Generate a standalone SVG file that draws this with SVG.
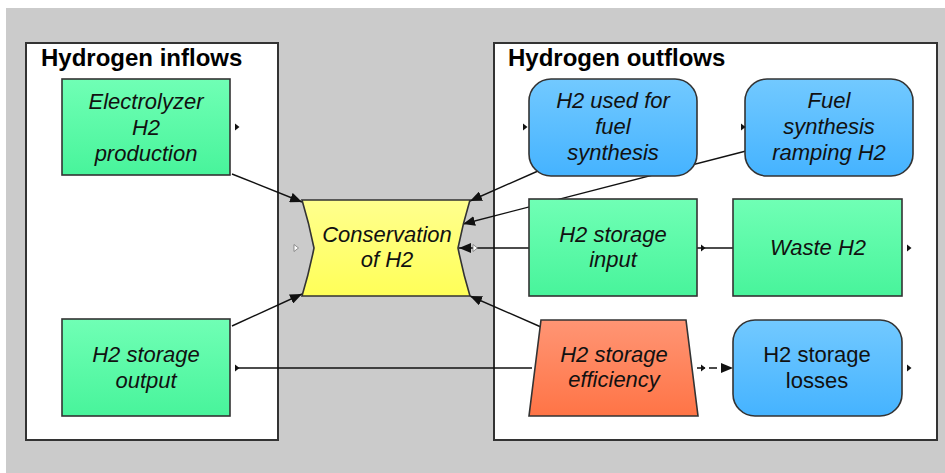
<svg xmlns="http://www.w3.org/2000/svg" width="945" height="473" viewBox="0 0 945 473">
<defs>
<style>
.panel{fill:#fff;stroke:#333;stroke-width:2}
.title{font-family:"Liberation Sans",Arial,sans-serif;font-weight:bold;font-size:24px;fill:#000}
.t{font-family:"Liberation Sans",Arial,sans-serif;font-style:italic;font-size:22px;fill:#111;text-anchor:middle}
.tn{font-family:"Liberation Sans",Arial,sans-serif;font-size:22px;fill:#111;text-anchor:middle}
.node{stroke:#333;stroke-width:1.6}
.c{fill:none;stroke:#111;stroke-width:1.4}
.pm{fill:#111}
.pw{fill:#fff;stroke:#777;stroke-width:0.8}
</style>
<linearGradient id="gG" x1="0" y1="0" x2="0" y2="1"><stop offset="0" stop-color="#70ffb5"/><stop offset="1" stop-color="#48f49b"/></linearGradient>
<linearGradient id="gB" x1="0" y1="0" x2="0" y2="1"><stop offset="0" stop-color="#72c9ff"/><stop offset="1" stop-color="#45b3ff"/></linearGradient>
<linearGradient id="gY" x1="0" y1="0" x2="0" y2="1"><stop offset="0" stop-color="#ffff8e"/><stop offset="1" stop-color="#ffff58"/></linearGradient>
<linearGradient id="gO" x1="0" y1="0" x2="0" y2="1"><stop offset="0" stop-color="#ff9574"/><stop offset="1" stop-color="#ff7446"/></linearGradient>
<marker id="ah" viewBox="0 0 12 10" refX="12" refY="5" markerWidth="12" markerHeight="10" markerUnits="userSpaceOnUse" orient="auto"><path d="M0,0 L12,5 L0,10 Z" fill="#111"/></marker>
<path id="pt" d="M0,-3.5 L4.5,0 L0,3.5 Z"/>
</defs>
<rect x="0" y="0" width="945" height="473" fill="#fff"/>
<rect x="6" y="8" width="939" height="465" fill="#cbcbcb"/>
<g id="panel-inflows">
<rect class="panel" x="26" y="43" width="252" height="397"/>
<text class="title" x="41" y="66">Hydrogen inflows</text>
</g>
<g id="panel-outflows">
<rect class="panel" x="494" y="43" width="443" height="397"/>
<text class="title" x="508" y="66">Hydrogen outflows</text>
</g>
<g id="connectors">
<line class="c" x1="232" y1="174" x2="302" y2="202" marker-end="url(#ah)"/>
<line class="c" x1="232" y1="326" x2="302" y2="294" marker-end="url(#ah)"/>
<line class="c" x1="538" y1="171" x2="470" y2="201" marker-end="url(#ah)"/>
<line class="c" x1="746" y1="151" x2="463" y2="224" marker-end="url(#ah)"/>
<line class="c" x1="529" y1="248" x2="459" y2="248" marker-end="url(#ah)"/>
<line class="c" x1="541" y1="327" x2="470" y2="296" marker-end="url(#ah)"/>
<line class="c" x1="238" y1="368" x2="532" y2="368"/>
<line class="c" x1="697" y1="248" x2="733" y2="248"/>
<line class="c" x1="697" y1="368" x2="733" y2="368" stroke-dasharray="8,4" marker-end="url(#ah)"/>
</g>
<g id="electrolyzer">
<rect class="node" x="62" y="79" width="168" height="96" fill="url(#gG)"/>
<text class="t" x="146" y="109">Electrolyzer</text>
<text class="t" x="146" y="135">H2</text>
<text class="t" x="146" y="161">production</text>
<use href="#pt" x="235" y="127" class="pm"/>
</g>
<g id="storage-output">
<rect class="node" x="62" y="319" width="168" height="97" fill="url(#gG)"/>
<text class="t" x="146" y="362">H2 storage</text>
<text class="t" x="146" y="388">output</text>
<use href="#pt" x="235" y="368" class="pm"/>
</g>
<g id="conservation">
<path class="node" d="M302,200 L470,200 Q463,223 458,248 Q463,273 470,296 L302,296 Q309,273 314,248 Q309,223 302,200 Z" fill="url(#gY)"/>
<text class="t" x="387" y="242">Conservation</text>
<text class="t" x="387" y="267">of H2</text>
<use href="#pt" x="294" y="248" class="pw"/>
<use href="#pt" x="473" y="248" class="pw"/>
</g>
<g id="h2-fuel-synthesis">
<rect class="node" x="529" y="79" width="168" height="97" rx="22" ry="22" fill="url(#gB)"/>
<text class="t" x="613" y="108">H2 used for</text>
<text class="t" x="613" y="134">fuel</text>
<text class="t" x="613" y="160">synthesis</text>
<use href="#pt" x="523" y="127" class="pm"/>
</g>
<g id="fuel-ramping">
<rect class="node" x="745" y="79" width="168" height="97" rx="22" ry="22" fill="url(#gB)"/>
<text class="t" x="829" y="108">Fuel</text>
<text class="t" x="829" y="134">synthesis</text>
<text class="t" x="829" y="160">ramping H2</text>
<use href="#pt" x="741" y="127" class="pm"/>
</g>
<g id="storage-input">
<rect class="node" x="529" y="199" width="168" height="97" fill="url(#gG)"/>
<text class="t" x="613" y="242">H2 storage</text>
<text class="t" x="613" y="267">input</text>
<use href="#pt" x="701" y="248" class="pm"/>
</g>
<g id="waste-h2">
<rect class="node" x="733" y="199" width="169" height="97" fill="url(#gG)"/>
<text class="t" x="818" y="255">Waste H2</text>
<use href="#pt" x="907" y="248" class="pm"/>
</g>
<g id="storage-efficiency">
<path class="node" d="M541,320 L686,320 L698,416 L529,416 Z" fill="url(#gO)"/>
<text class="t" x="614" y="362">H2 storage</text>
<text class="t" x="614" y="387">efficiency</text>
<use href="#pt" x="701" y="368" class="pm"/>
</g>
<g id="storage-losses">
<rect class="node" x="733" y="320" width="169" height="96" rx="22" ry="22" fill="url(#gB)"/>
<text class="tn" x="817" y="362">H2 storage</text>
<text class="tn" x="817" y="388">losses</text>
<use href="#pt" x="907" y="368" class="pm"/>
</g>
</svg>
